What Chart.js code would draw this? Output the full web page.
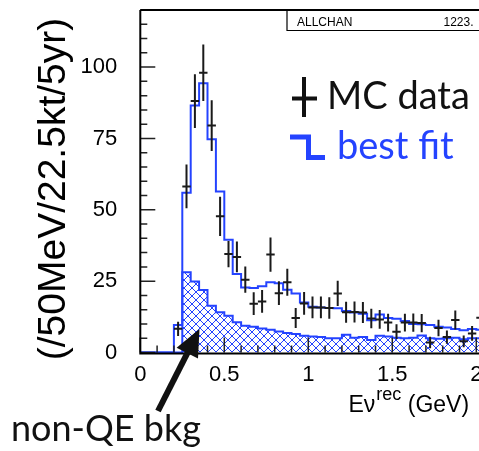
<!DOCTYPE html>
<html>
<head>
<meta charset="utf-8">
<script src="https://cdn.jsdelivr.net/npm/chart.js@4.4.1/dist/chart.umd.min.js"></script>
<style>
  html, body { margin: 0; padding: 0; background: #fff; overflow: hidden; }
  #wrap { position: relative; width: 479px; height: 451px; overflow: hidden; }
  #c { position: absolute; left: 0; top: 0; }
</style>
</head>
<body>
<div id="wrap"><canvas id="c" width="600" height="451"></canvas></div>
<script>
// Reconstructed-energy spectrum, 50 MeV bins (GeV).
var BIN_W = 0.05;
var binLow = [0.20, 0.25, 0.30, 0.35, 0.40, 0.45, 0.50, 0.55, 0.60, 0.65,
              0.70, 0.75, 0.80, 0.85, 0.90, 0.95, 1.00, 1.05, 1.10, 1.15,
              1.20, 1.25, 1.30, 1.35, 1.40, 1.45, 1.50, 1.55, 1.60, 1.65,
              1.70, 1.75, 1.80, 1.85, 1.90, 1.95, 2.00];

// blue outline: best fit (total)
var bestFit = [9.6, 56.0, 86.5, 94.3, 74.7, 56.4, 39.5, 27.5, 22.8, 22.6,
               23.2, 24.6, 24.3, 22.0, 20.7, 17.5, 16.0, 15.8, 15.6, 15.5,
               14.5, 14.0, 13.6, 11.3, 13.3, 12.1, 11.8, 11.0, 10.0, 9.9,
               9.6, 9.0, 8.8, 8.2, 7.8, 8.2, 8.0];

// hatched: non-QE background part of the fit
var nonQE = [0.0, 28.1, 24.9, 21.9, 16.4, 14.1, 12.9, 10.6, 9.4, 9.0,
             8.4, 8.0, 7.4, 6.8, 6.5, 5.9, 5.6, 5.4, 5.0, 5.0,
             6.2, 5.2, 5.4, 4.4, 5.9, 5.6, 5.2, 5.0, 5.2, 6.0,
             5.0, 4.8, 5.0, 5.2, 4.6, 5.0, 5.0];

// black crosses: MC data and its error bar (half length)
var mcData = [8.3, 58.2, 88.1, 98.0, 79.5, 47.7, 34.5, 33.5, 25.5, 17.1,
              17.9, 34.3, 20.8, 24.6, 12.1, 17.2, 15.8, 15.8, 15.6, 20.7,
              14.1, 14.2, 14.0, 11.9, 11.6, 10.5, 7.3, 10.5, 10.5, 10.3,
              3.5, 8.6, 5.4, 11.4, 3.9, 6.7, 12.2];
var mcErr = [2.5, 7.7, 9.4, 9.9, 8.9, 6.9, 4.6, 5.4, 4.6, 4.0,
             4.0, 6.0, 4.2, 4.7, 3.5, 4.0, 3.8, 3.8, 3.8, 4.4,
             3.7, 3.7, 3.7, 3.4, 3.3, 3.1, 2.6, 3.1, 3.2, 3.2,
             2.0, 2.9, 2.3, 3.3, 2.1, 2.6, 3.4];

var xTicks = [0, 0.5, 1, 1.5, 2];
var yTicks = [0, 25, 50, 75, 100];

var BLUE = '#2443ff';
var INK = '#111';
var AXIS_FONT = '"Liberation Sans", Arial, Helvetica, sans-serif';
var GILL_FONT = 'Lato, "Open Sans", sans-serif';

// Step outline as points on the left bin edges; stepped:'before' keeps each
// value until the next edge. Starts on the axis at 0 and closes at the last edge.
function stepPoints(vals) {
  var pts = [{ x: 0, y: 0 }];
  binLow.forEach(function(lo, i) { pts.push({ x: lo, y: vals[i] }); });
  pts.push({ x: binLow[binLow.length - 1] + BIN_W, y: 0 });
  return pts;
}

function makeHatch(ctx) {
  var c = document.createElement('canvas');
  c.width = 8; c.height = 8;
  var g = c.getContext('2d');
  g.strokeStyle = BLUE; g.lineWidth = 1;
  g.beginPath();
  g.moveTo(-1, -1); g.lineTo(9, 9);
  g.moveTo(9, -1); g.lineTo(-1, 9);
  g.stroke();
  return ctx.createPattern(c, 'repeat');
}

// ── ROOT-style frame: inside ticks, error crosses, stat box ─────────────────
var frameAndMarks = {
  id: 'frameAndMarks',
  afterDatasetsDraw: function(chart) {
    var ctx = chart.ctx, a = chart.chartArea;
    var xs = chart.scales.x, ys = chart.scales.y;
    ctx.save();

    // MC data crosses
    ctx.strokeStyle = '#1a1a1a'; ctx.lineWidth = 2;
    ctx.beginPath();
    mcData.forEach(function(v, i) {
      var xc = xs.getPixelForValue(binLow[i] + BIN_W / 2);
      var xl = xs.getPixelForValue(binLow[i]);
      var xr = xs.getPixelForValue(binLow[i] + BIN_W);
      var yc = ys.getPixelForValue(v);
      ctx.moveTo(xc, ys.getPixelForValue(v - mcErr[i]));
      ctx.lineTo(xc, ys.getPixelForValue(v + mcErr[i]));
      ctx.moveTo(xl, yc); ctx.lineTo(xr, yc);
    });
    ctx.stroke();

    // ticks, drawn inwards
    ctx.strokeStyle = '#222'; ctx.lineWidth = 1.5;
    ctx.beginPath();
    for (var k = 0; k <= 120; k += 5) {
      var py = ys.getPixelForValue(k);
      ctx.moveTo(a.left, py); ctx.lineTo(a.left + (k % 25 === 0 ? 15 : 7), py);
    }
    for (var m = 0; m <= 25; m++) {
      var px = xs.getPixelForValue(m / 10);
      ctx.moveTo(px, a.bottom); ctx.lineTo(px, a.bottom - (m % 5 === 0 ? 15 : 7));
    }
    ctx.stroke();

    // frame
    ctx.strokeStyle = '#000'; ctx.lineWidth = 2;
    ctx.beginPath();
    ctx.moveTo(a.left, a.top); ctx.lineTo(a.left, a.bottom + 2);
    ctx.moveTo(a.left - 1, a.bottom + 1); ctx.lineTo(chart.width, a.bottom + 1);
    ctx.moveTo(a.left, a.top); ctx.lineTo(chart.width, a.top);
    ctx.stroke();

    // stat box
    ctx.lineWidth = 1.2;
    ctx.beginPath();
    ctx.moveTo(287, a.top); ctx.lineTo(287, 30.5); ctx.lineTo(chart.width, 30.5);
    ctx.stroke();
    ctx.fillStyle = '#000';
    ctx.font = '12px ' + AXIS_FONT;
    ctx.textBaseline = 'alphabetic';
    ctx.textAlign = 'left';
    ctx.fillText('ALLCHAN', 297, 25.5);
    ctx.textAlign = 'right';
    ctx.fillText('1223.', 473.5, 25.5);
    ctx.restore();
  }
};

// ── Axis titles, legend and the annotation arrow ────────────────────────────
var labels = {
  id: 'labels',
  afterDraw: function(chart) {
    var ctx = chart.ctx;
    ctx.save();
    ctx.fillStyle = '#000';
    ctx.textBaseline = 'alphabetic';
    ctx.textAlign = 'left';

    // y title
    ctx.save();
    ctx.translate(65, 189);
    ctx.rotate(-Math.PI / 2);
    ctx.textAlign = 'center';
    ctx.font = '39px ' + AXIS_FONT;
    ctx.fillText('(/50MeV/22.5kt/5yr)', 0, 0);
    ctx.restore();

    // x title with superscript
    var x0 = 348.5;
    ctx.font = '23px ' + AXIS_FONT;
    ctx.fillText('E\u03bd', x0, 411.5);
    x0 += ctx.measureText('E\u03bd').width + 1;
    ctx.font = '18px ' + AXIS_FONT;
    ctx.fillText('rec', x0, 400);
    x0 += ctx.measureText('rec').width;
    ctx.font = '23px ' + AXIS_FONT;
    ctx.fillText(' (GeV)', x0, 411.5);

    // legend
    ctx.strokeStyle = INK; ctx.lineWidth = 4;
    ctx.beginPath();
    ctx.moveTo(304, 77); ctx.lineTo(304, 117);
    ctx.moveTo(292, 98.5); ctx.lineTo(317, 98.5);
    ctx.stroke();
    ctx.font = '38px ' + GILL_FONT;
    ctx.fillStyle = INK;
    ctx.fillText('MC data', 327, 108.5);

    ctx.strokeStyle = BLUE; ctx.lineWidth = 5; ctx.lineJoin = 'miter';
    ctx.beginPath();
    ctx.moveTo(290, 137); ctx.lineTo(308.5, 137); ctx.lineTo(308.5, 157.5); ctx.lineTo(325, 157.5);
    ctx.stroke();
    ctx.fillStyle = BLUE;
    ctx.fillText('best fit', 337, 158.5);

    // annotation
    ctx.fillStyle = INK;
    ctx.font = '36px ' + GILL_FONT;
    ctx.fillText('non-QE bkg', 11, 441);

    var tip = [199.5, 329], tail = [158, 411];
    var dx = tip[0] - tail[0], dy = tip[1] - tail[1];
    var len = Math.sqrt(dx * dx + dy * dy), ux = dx / len, uy = dy / len;
    var bx = tip[0] - ux * 27, by = tip[1] - uy * 27;
    ctx.strokeStyle = INK; ctx.lineWidth = 6; ctx.lineCap = 'butt';
    ctx.beginPath();
    ctx.moveTo(tail[0], tail[1]); ctx.lineTo(bx + ux * 2, by + uy * 2);
    ctx.stroke();
    ctx.beginPath();
    ctx.moveTo(tip[0], tip[1]);
    ctx.lineTo(bx - uy * 12, by + ux * 12);
    ctx.lineTo(bx + uy * 12, by - ux * 12);
    ctx.closePath();
    ctx.fill();
    ctx.restore();
  }
};

function draw() {
  var el = document.getElementById('c');
  var ctx = el.getContext('2d');
  new Chart(ctx, {
    type: 'line',
    data: {
      datasets: [
        { label: 'best fit', data: stepPoints(bestFit), stepped: 'before',
          borderColor: BLUE, borderWidth: 2, pointRadius: 0, fill: false, clip: 3 },
        { label: 'non-QE bkg', data: stepPoints(nonQE), stepped: 'before',
          borderColor: BLUE, borderWidth: 2, pointRadius: 0,
          fill: 'origin', backgroundColor: makeHatch(ctx), clip: 3 }
      ]
    },
    options: {
      responsive: false,
      animation: false,
      events: [],
      layout: { padding: { top: 10, right: 39.7, bottom: 0, left: 0 } },
      plugins: { legend: { display: false }, tooltip: { enabled: false } },
      scales: {
        x: {
          type: 'linear', min: 0, max: 2.5,
          grid: { display: false, drawTicks: false },
          border: { display: false },
          ticks: { font: { family: AXIS_FONT, size: 22 }, color: '#000', padding: 9,
                   maxRotation: 0, autoSkip: false, includeBounds: false,
                   callback: function(v) { return String(v); } },
          afterBuildTicks: function(s) { s.ticks = xTicks.map(function(v) { return { value: v }; }); },
          afterFit: function(s) { s.height = 98.5; s.paddingLeft = 0; s.paddingRight = 0; }
        },
        y: {
          min: 0, max: 120,
          grid: { display: false, drawTicks: false },
          border: { display: false },
          ticks: { font: { family: AXIS_FONT, size: 22 }, color: '#000', padding: 23,
                   includeBounds: false },
          afterBuildTicks: function(s) { s.ticks = yTicks.map(function(v) { return { value: v }; }); },
          afterFit: function(s) { s.width = 140.3; s.paddingTop = 0; s.paddingBottom = 0; }
        }
      }
    },
    plugins: [frameAndMarks, labels]
  });
}

var fontsWanted = ['22px "Liberation Sans"', '38px Lato'];
Promise.all(fontsWanted.map(function(f) { return document.fonts.load(f); })).then(draw, draw);
</script>
</body>
</html>
